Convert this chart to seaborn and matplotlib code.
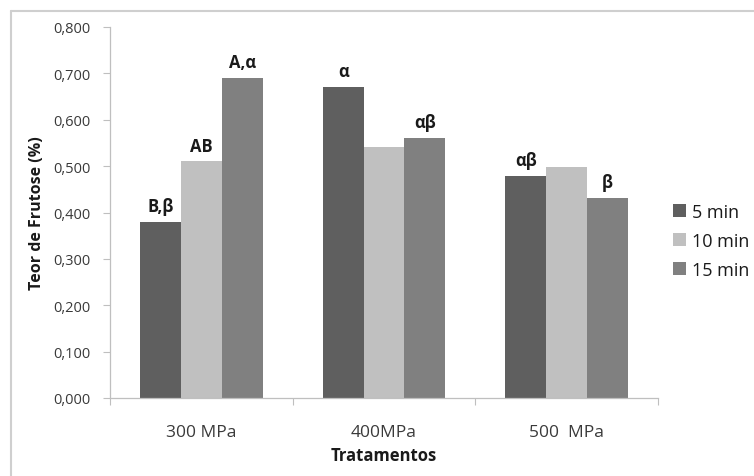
import matplotlib
matplotlib.use("Agg")
import matplotlib.pyplot as plt
import seaborn as sns
import pandas as pd
from matplotlib.lines import Line2D
from matplotlib.ticker import FuncFormatter, FixedLocator

# Data
tratamentos = ["300 MPa", "400MPa", "500  MPa"]
tempos = ["5 min", "10 min", "15 min"]
teor_5min = [0.380, 0.670, 0.478]
teor_10min = [0.510, 0.542, 0.498]
teor_15min = [0.690, 0.561, 0.432]
letras_5min = ["B,β", "α", "αβ"]
letras_10min = ["AB", "", ""]
letras_15min = ["A,α", "αβ", "β"]
cores = ["#5f5f5f", "#c0c0c0", "#808080"]

rows = []
for tempo, vals in zip(tempos, [teor_5min, teor_10min, teor_15min]):
    for trat, v in zip(tratamentos, vals):
        rows.append({"Tratamento": trat, "Tempo": tempo, "Teor": v})
df = pd.DataFrame(rows)

sns.set_theme(style="white")
plt.rcParams["font.family"] = ["Open Sans", "DejaVu Sans"]

fig = plt.figure(figsize=(7.54, 4.77), dpi=100)
W, H = 754, 477
ax = fig.add_axes([110 / W, (H - 399) / H, 548 / W, 371 / H])

sns.barplot(data=df, x="Tratamento", y="Teor", hue="Tempo", order=tratamentos,
            hue_order=tempos, palette=cores, saturation=1, width=0.67,
            errorbar=None, linewidth=0, ax=ax)

for cont, labs in zip(ax.containers, [letras_5min, letras_10min, letras_15min]):
    ax.bar_label(cont, labels=labs, padding=5, fontsize=12, fontweight="bold",
                 color="#1a1a1a")

ax.set_ylim(0, 0.8)
ax.set_xlim(-0.5, 2.5)
ax.set_yticks([i / 10 for i in range(9)])
ax.yaxis.set_major_formatter(FuncFormatter(lambda v, p: f"{v:.3f}".replace(".", ",")))
ax.tick_params(axis="y", which="major", direction="out", length=5, width=0.8,
               color="#bfbfbf", labelsize=10.5, labelcolor="#3a3a3a", pad=9, left=True)
ax.tick_params(axis="x", which="major", length=0, labelsize=12.5,
               labelcolor="#3a3a3a", pad=19)
ax.xaxis.set_minor_locator(FixedLocator([-0.5, 0.5, 1.5, 2.5]))
ax.tick_params(axis="x", which="minor", direction="out", length=5, width=0.8,
               color="#bfbfbf", bottom=True)

for side in ["top", "right"]:
    ax.spines[side].set_visible(False)
for side in ["left", "bottom"]:
    ax.spines[side].set_color("#bfbfbf")
    ax.spines[side].set_linewidth(0.9)

ax.set_xlabel("Tratamentos", fontsize=12, fontweight="bold", color="#1a1a1a", labelpad=4)
ax.set_ylabel("Teor de Frutose (%)", fontsize=11.5, fontweight="bold", color="#1a1a1a",
              labelpad=6)

handles, labels = ax.get_legend_handles_labels()
ax.get_legend().remove()
fig.legend(handles, labels, loc="upper left", bbox_to_anchor=(673 / W, 1 - 204 / H),
           frameon=False, fontsize=13, handlelength=0.7, handleheight=0.7,
           handletextpad=0.35, labelspacing=0.6, borderpad=0, borderaxespad=0,
           labelcolor="#1a1a1a")

# Outer frame of the chart area
fig.add_artist(Line2D([11 / W, 11 / W], [0, 1 - 12 / H], color="#cfcfcf", lw=1.5,
                      transform=fig.transFigure))
fig.add_artist(Line2D([11 / W, 1], [1 - 12 / H, 1 - 12 / H], color="#cfcfcf", lw=1.5,
                      transform=fig.transFigure))

fig.savefig("out.png", dpi=100)
